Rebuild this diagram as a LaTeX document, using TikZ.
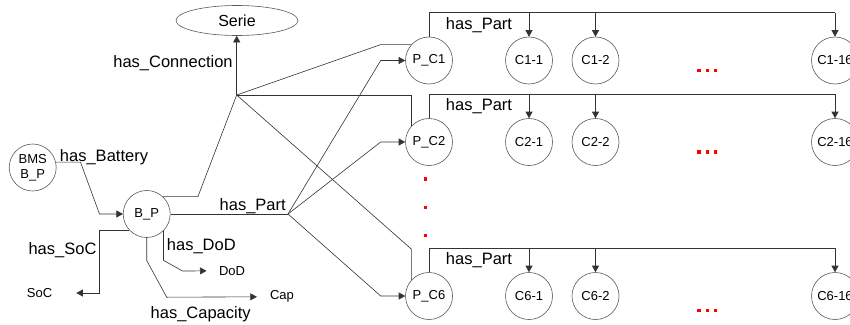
\documentclass[tikz,border=0pt]{standalone}
\usepackage{fontspec}
\setmainfont{Liberation Sans}
\usetikzlibrary{positioning}
\usetikzlibrary{arrows.meta}
\usetikzlibrary{shapes.geometric}

\begin{document}
\begin{tikzpicture}[
  x=1pt, y=1pt, on grid,
  concept/.style={circle, draw=black!65, line width=0.6pt, minimum size=47pt, inner sep=0pt, font=\fontsize{13}{15}\selectfont},
  value/.style={inner sep=2pt, font=\fontsize{13}{15}\selectfont},
  relname/.style={inner sep=0pt, anchor=base, font=\fontsize{16.5}{19}\selectfont},
  link/.style={draw=black!80, line width=0.6pt},
  arr/.style={link, -{Triangle[length=6.5pt, width=7pt]}},
  reddot/.style={fill=red}
]
\clip (0,0) rectangle (850,-324);

% Concepts
\node[ellipse, draw=black!65, line width=0.6pt, minimum width=122pt, minimum height=30pt, inner sep=0pt, font=\fontsize{16}{19}\selectfont] (serie) at (237,-20.5) {Serie};
\node[concept, align=center] (bms) at (32.7,-167.5) {BMS\\B\_P};
\node[concept] (bp) at (146.7,-214) {B\_P};
\node[concept] (pc1) at (429,-60.5) {P\_C1};
\node[concept, below=81.5pt of pc1] (pc2) {P\_C2};
\node[concept, below=154pt of pc2] (pc6) {P\_C6};

% Values
\node[value] (soc) at (39.5,-293) {SoC};
\node[value] (dod) at (232,-270.7) {DoD};
\node[value] (cap) at (282,-296.7) {Cap};

% Junctions
\coordinate (jc) at (236.7,-95);
\coordinate (jp) at (288,-214);

% Relations of B_P
\draw[arr] (bms.13) -- ++(24.6,0) -- ([xshift=-23.4pt]bp.west) -- (bp.west);
\draw[link] (bp.47) -- ++(35,0) -- (jc);
\draw[arr] (jc) -- (jc |- serie.south);
\draw[link] (bp.east) -- (jp);
\foreach \p in {pc1,pc2,pc6}
  \draw[arr] (jp) -- ([xshift=-24.5pt]\p.west) -- (\p.west);
\draw[arr, shorten >=22pt] (bp.222) -- ++(-30,0) |- (soc);
\draw[arr, shorten >=10.3pt] (bp.-45) -- ++(0,-29.5) -- ++(19,-10.7) -- (dod);
\draw[arr, shorten >=11pt] (bp.south) -- ++(0,-22.7) -- ++(20,-36.7) -- (cap);

% Connections of the packs
\draw[link] (jc) -- ([xshift=-30.5pt]pc1.138) -- (pc1.138);
\draw[link] (jc) -- (jc -| pc2.138) -- (pc2.138);
\draw[link] (jc) -- ([yshift=31pt]pc6.138) -- (pc6.138);

% Labels
\node[relname] (lconn) at (173,-67.5) {has\_Connection};
\node[relname] (lbatt) at (104,-161) {has\_Battery};
\node[relname] (lpart) at (252.7,-210.5) {has\_Part};
\node[relname] (lsoc) at (62.5,-254.5) {has\_SoC};
\node[relname] (ldod) at (201.3,-250) {has\_DoD};
\node[relname] (lcap) at (200.7,-318) {has\_Capacity};

% Cells of each pack
\foreach \row/\dy in {1/10, 2/10, 6/14.5} {
  \node[concept, right=100pt of pc\row] (c\row-1) {C\row-1};
  \node[concept, right=66.5pt of c\row-1] (c\row-2) {C\row-2};
  \node[concept, right=239.5pt of c\row-2] (c\row-16) {C\row-16};
  \draw[link] (pc\row.north) |- ([yshift=24pt]c\row-16.north);
  \foreach \c in {1,2,16}
    \draw[arr] ([yshift=24pt]c\row-\c.north) -- (c\row-\c.north);
  \node[relname] at ([shift={(50,31.5)}]pc\row.center) {has\_Part};
  \foreach \dx in {103.5,111.8,120.2}
    \fill[reddot] ([shift={(\dx,-\dy)}]c\row-2.center) +(-1.6,-1.6) rectangle +(1.6,1.6);
}

% Vertical dots
\foreach \y in {179,207.3,235.7}
  \fill[reddot] (425.7,-\y) +(-1.6,-1.6) rectangle +(1.6,1.6);

\end{tikzpicture}
\end{document}
